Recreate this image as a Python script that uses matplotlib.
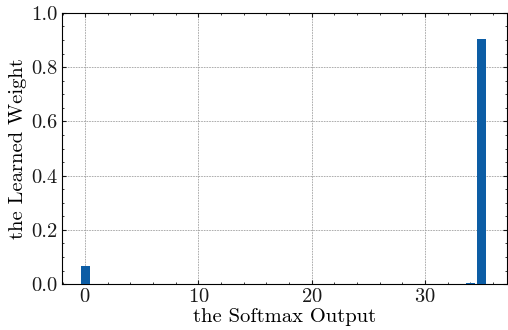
import matplotlib
matplotlib.use("Agg")
import matplotlib.pyplot as plt
import numpy as np

categories = list(range(36))
weights = [0.0] * 36
weights[0] = 0.066
weights[34] = 0.003
weights[35] = 0.903

plt.rcParams.update({
    "font.family": "serif",
    "font.serif": ["cmr10"],
    "mathtext.fontset": "cm",
    "axes.formatter.use_mathtext": True,
    "font.size": 14.8,
    "text.color": "#1a1a1a",
    "xtick.color": "#1a1a1a",
    "ytick.color": "#1a1a1a",
    "xtick.direction": "in",
    "ytick.direction": "in",
    "xtick.top": True,
    "ytick.right": True,
    "xtick.minor.visible": True,
    "ytick.minor.visible": True,
    "xtick.major.size": 3,
    "ytick.major.size": 3,
    "xtick.minor.size": 1.5,
    "ytick.minor.size": 1.5,
    "axes.linewidth": 0.8,
})

fig = plt.figure(figsize=(5.08, 3.30), dpi=100)
ax = fig.add_axes([0.122, 0.139, 0.876, 0.822])
ax.bar(categories, weights, color="#0C5DA5", width=0.8, zorder=3)
ax.set_ylim(0, 1.0)
ax.set_xlim(-2.05, 37.25)
ax.set_xticks([0, 10, 20, 30])
ax.set_yticks([0.0, 0.2, 0.4, 0.6, 0.8, 1.0])
ax.set_yticklabels(["0.0", "0.2", "0.4", "0.6", "0.8", "1.0"])
ax.grid(True, which="major", linestyle=(0, (2, 1.2)), linewidth=0.6, color="#a0a0a0", zorder=0)
ax.set_xlabel("the Softmax Output", labelpad=1)
ax.set_ylabel("the Learned Weight", labelpad=3)
ax.tick_params(axis="both", which="major", pad=3)
fig.savefig("out.png", dpi=100)
